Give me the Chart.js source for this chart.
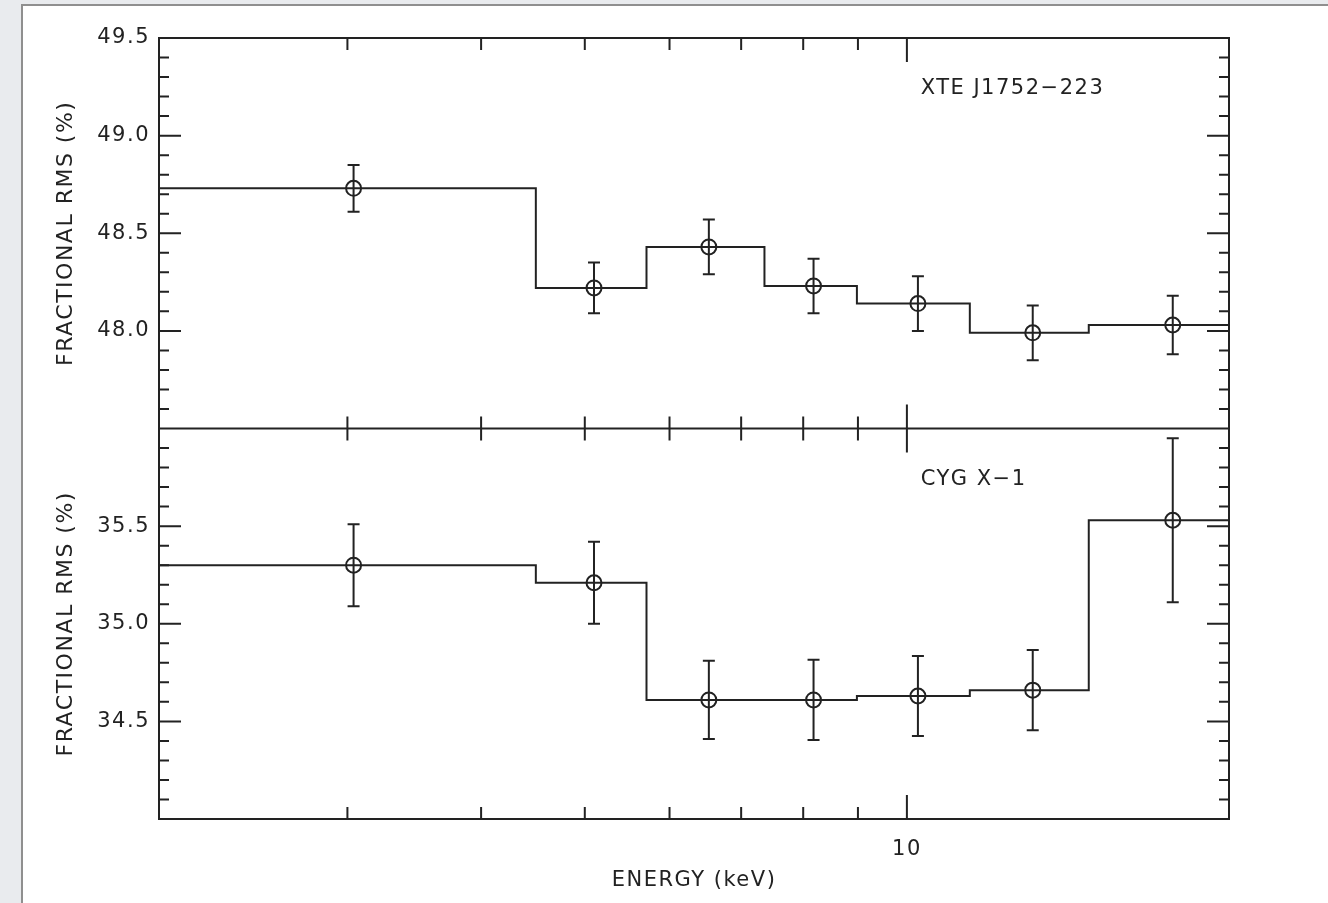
<!DOCTYPE html>
<html>
<head>
<meta charset="utf-8">
<title>Fractional RMS vs energy</title>
<script src="https://cdn.jsdelivr.net/npm/chart.js@4.4.1/dist/chart.umd.min.js"></script>
<style>
  html, body { margin: 0; padding: 0; background: #e9ebee; overflow: hidden; }
  #card {
    position: absolute; left: 21px; top: 4px; width: 1320px; height: 920px;
    background: #fff; border-left: 2px solid #8f8f8f; border-top: 2px solid #8f8f8f;
  }
  #chart { position: absolute; left: 0; top: 0; }
</style>
</head>
<body>
<div id="card"></div>
<canvas id="chart" width="1328" height="903"></canvas>
<script>
// energy bins (keV), shared by both sources
const binEdges = [2, 4.50, 5.71, 7.36, 8.98, 11.45, 14.79, 20];
const energy = [3.04, 5.10, 6.53, 8.18, 10.24, 13.11, 17.72];

// fractional rms (%) and 1-sigma errors
const xteRms = [48.73, 48.22, 48.43, 48.23, 48.14, 47.99, 48.03];
const xteErr = [0.12, 0.13, 0.14, 0.14, 0.14, 0.14, 0.15];
const cygRms = [35.30, 35.21, 34.61, 34.61, 34.63, 34.66, 35.53];
const cygErr = [0.21, 0.21, 0.20, 0.205, 0.205, 0.205, 0.42];

// axes
const xLabelTicks = [10];
const xMinorTicks = [3, 4, 5, 6, 7, 8, 9];
const topLabelTicks = [48.0, 48.5, 49.0, 49.5];
const bottomLabelTicks = [34.5, 35.0, 35.5];
const yMinorStep = 0.1;

// panel labels
const panelNames = ['XTE J1752\u2212223', 'CYG X\u22121'];
const panelNameEnergy = 10.3;
const panelNameLevel = [49.24, 35.74];

const ink = '#222';
const font = { family: 'DejaVu Sans', size: 21 };
const titleFont = { family: 'DejaVu Sans', size: 22 };

function stepData(values) {
  return binEdges.map((e, i) => ({ x: e, y: values[Math.min(i, values.length - 1)] }));
}
function pointData(values) {
  return energy.map((e, i) => ({ x: e, y: values[i] }));
}

const errorBars = {
  id: 'errorBars',
  afterDatasetsDraw(chart) {
    const ctx = chart.ctx;
    const xs = chart.scales.x;
    chart.data.datasets.forEach(ds => {
      if (!ds.errors) return;
      const ys = chart.scales[ds.yAxisID];
      ctx.save();
      ctx.strokeStyle = ink;
      ctx.lineWidth = 2;
      ctx.beginPath();
      ds.data.forEach((p, j) => {
        const px = xs.getPixelForValue(p.x);
        const top = ys.getPixelForValue(p.y + ds.errors[j]);
        const bot = ys.getPixelForValue(p.y - ds.errors[j]);
        ctx.moveTo(px, top); ctx.lineTo(px, bot);
        ctx.moveTo(px - 6, top); ctx.lineTo(px + 6, top);
        ctx.moveTo(px - 6, bot); ctx.lineTo(px + 6, bot);
      });
      ctx.stroke();
      ctx.restore();
    });
  }
};

const frame = {
  id: 'frame',
  beforeDraw(chart) {
    chart.ctx.letterSpacing = '1.5px';
  },
  afterDatasetsDraw(chart) {
    const { ctx, chartArea: a, scales } = chart;
    const xs = scales.x;
    const mid = scales.yTop.bottom;
    ctx.save();
    ctx.strokeStyle = ink;
    ctx.lineWidth = 2;
    ctx.beginPath();
    ctx.rect(a.left, a.top, a.right - a.left, a.bottom - a.top);
    ctx.moveTo(a.left, mid); ctx.lineTo(a.right, mid);

    const xTick = (v, len) => {
      const px = xs.getPixelForValue(v);
      ctx.moveTo(px, a.top); ctx.lineTo(px, a.top + len);
      ctx.moveTo(px, mid - len); ctx.lineTo(px, mid + len);
      ctx.moveTo(px, a.bottom); ctx.lineTo(px, a.bottom - len);
    };
    xMinorTicks.forEach(v => xTick(v, 12));
    xLabelTicks.forEach(v => xTick(v, 24));

    const yTicks = (scale, majors) => {
      for (let v = scale.min + yMinorStep; v < scale.max - yMinorStep / 2; v += yMinorStep) {
        const major = majors.some(m => Math.abs(m - v) < 1e-6);
        const len = major ? 22 : 10;
        const py = scale.getPixelForValue(v);
        ctx.moveTo(a.left, py); ctx.lineTo(a.left + len, py);
        ctx.moveTo(a.right, py); ctx.lineTo(a.right - len, py);
      }
    };
    yTicks(scales.yTop, topLabelTicks);
    yTicks(scales.yBottom, bottomLabelTicks);
    ctx.stroke();

    // source names
    ctx.fillStyle = ink;
    ctx.font = font.size + 'px "' + font.family + '"';
    ctx.textAlign = 'left';
    ctx.textBaseline = 'middle';
    const px = xs.getPixelForValue(panelNameEnergy);
    ctx.fillText(panelNames[0], px, scales.yTop.getPixelForValue(panelNameLevel[0]));
    ctx.fillText(panelNames[1], px, scales.yBottom.getPixelForValue(panelNameLevel[1]));
    ctx.restore();
  }
};

const yAxis = (min, max, labels) => ({
  position: 'left',
  stack: 'rms',
  stackWeight: 1,
  min: min,
  max: max,
  grid: { display: false, drawTicks: false },
  border: { display: false },
  ticks: { autoSkip: false, padding: 9, color: ink, font: font, callback: v => v.toFixed(1) },
  title: { display: true, text: 'FRACTIONAL RMS (%)', color: ink, font: titleFont, padding: { top: 53, bottom: 0 } },
  afterBuildTicks: s => { s.ticks = labels.map(v => ({ value: v })); },
  afterFit: s => { s.width = 159; }
});

new Chart(document.getElementById('chart'), {
  type: 'scatter',
  data: {
    datasets: [
      { data: stepData(cygRms), yAxisID: 'yBottom', showLine: true, stepped: true,
        borderColor: ink, borderWidth: 2, pointRadius: 0 },
      { data: pointData(cygRms), errors: cygErr, yAxisID: 'yBottom', pointStyle: 'circle',
        pointRadius: 7.5, pointBorderWidth: 2, pointBorderColor: ink, pointBackgroundColor: 'rgba(0,0,0,0)' },
      { data: stepData(xteRms), yAxisID: 'yTop', showLine: true, stepped: true,
        borderColor: ink, borderWidth: 2, pointRadius: 0 },
      { data: pointData(xteRms), errors: xteErr, yAxisID: 'yTop', pointStyle: 'circle',
        pointRadius: 7.5, pointBorderWidth: 2, pointBorderColor: ink, pointBackgroundColor: 'rgba(0,0,0,0)' }
    ]
  },
  options: {
    responsive: false,
    animation: false,
    events: [],
    layout: { padding: { left: 0, top: 38, right: 99, bottom: 0 } },
    plugins: { legend: { display: false }, tooltip: { enabled: false } },
    scales: {
      x: {
        type: 'logarithmic',
        min: 2,
        max: 20,
        grid: { display: false, drawTicks: false },
        border: { display: false },
        ticks: { autoSkip: false, maxRotation: 0, padding: 18, color: ink, font: font, callback: v => String(v) },
        title: { display: true, text: 'ENERGY (keV)', color: ink, font: font, padding: { top: 0, bottom: 10 } },
        afterBuildTicks: s => { s.ticks = xLabelTicks.map(v => ({ value: v })); },
        afterFit: s => { s.height = 84; }
      },
      yBottom: yAxis(34, 36, bottomLabelTicks),
      yTop: yAxis(47.5, 49.5, topLabelTicks)
    }
  },
  plugins: [errorBars, frame]
});
</script>
</body>
</html>
